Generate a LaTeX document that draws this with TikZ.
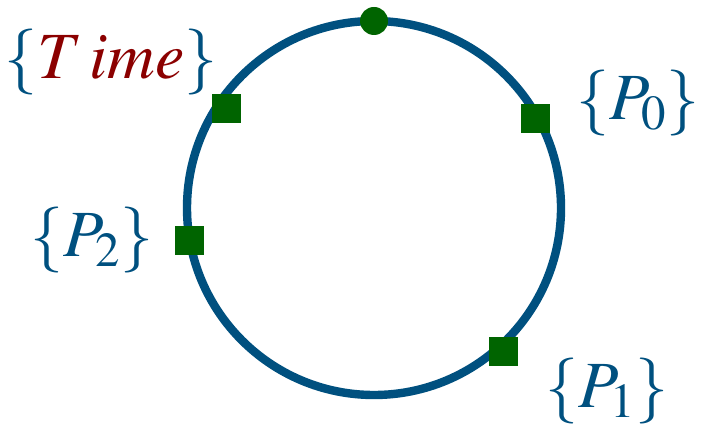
\documentclass[tikz,border=0pt]{standalone}
\usepackage{mathptmx}
\usepackage{xcolor}
\usepackage{tikz}
\usetikzlibrary{positioning}
\definecolor{ringblue}{HTML}{00507F}
\definecolor{markgreen}{HTML}{006400}
\definecolor{timered}{HTML}{8B0000}
\begin{document}
\begin{tikzpicture}[x=0.5pt,y=0.5pt,
    marker/.style={fill=markgreen, minimum size=14.5pt, inner sep=0pt},
    lbl/.style={text=ringblue, font=\fontsize{33}{38}\selectfont}]
    \useasboundingbox (0,0) rectangle (705,428);
    % Ring
    \coordinate (c) at (374,220);
    \draw[ringblue, line width=4.2pt] (c) circle (187);
    % Top dot
    \fill[markgreen] ([shift={(90:187)}]c) circle (7pt);
    % Square markers
    \node[marker] (time) at ([shift={(146:178)}]c) {};
    \node[marker] (p0) at ([shift={(29:185)}]c) {};
    \node[marker] (p2) at ([shift={(190:187)}]c) {};
    \node[marker] (p1) at ([shift={(-48:193)}]c) {};
    % Labels
    \node[lbl] (timelbl) at (111,366) {$\{\textcolor{timered}{T\,ime}\}$};
    \node[lbl] (p0lbl) at (638,325) {$\{P_0\}$};
    \node[lbl] (p2lbl) at (92,188) {$\{P_2\}$};
    \node[lbl] (p1lbl) at (607,37) {$\{P_1\}$};
\end{tikzpicture}
\end{document}
